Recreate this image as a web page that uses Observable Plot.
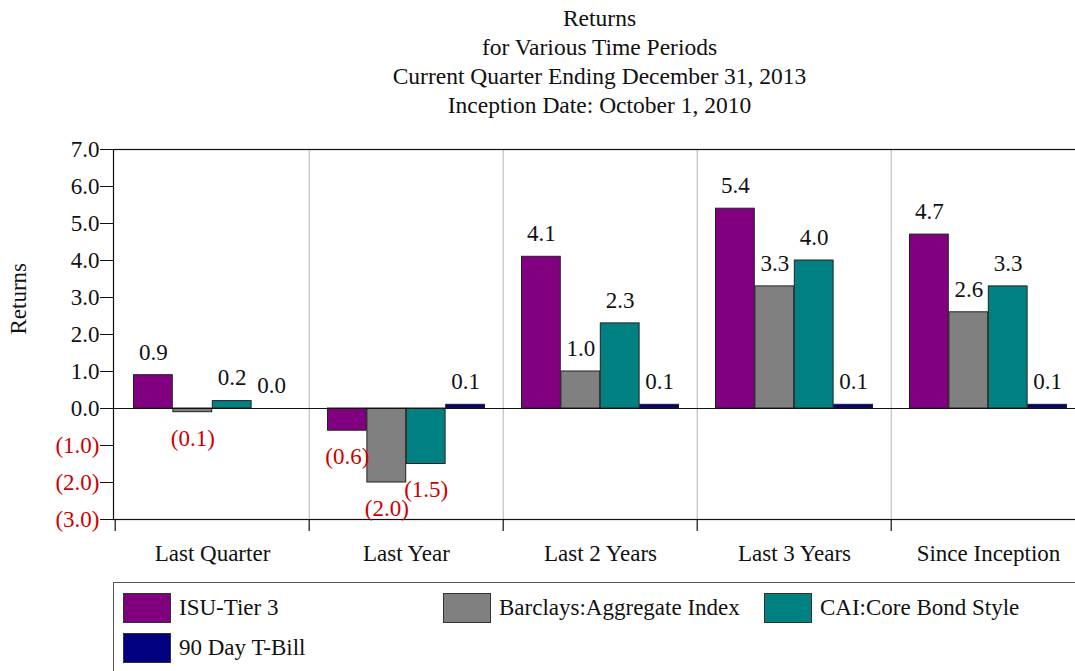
<!DOCTYPE html>
<html>
<head>
<meta charset="utf-8">
<script src="https://cdn.jsdelivr.net/npm/d3@7"></script>
<script src="https://cdn.jsdelivr.net/npm/@observablehq/plot@0.6"></script>
<style>
  html, body { margin: 0; padding: 0; background: #fff; overflow: hidden; }
  #wrap, #wrap * { font-family: "Liberation Serif", "Times New Roman", serif; }
  #wrap { position: relative; width: 1075px; height: 671px; overflow: hidden; color: #111; }
  #title { position: absolute; left: 113px; width: 973px; top: 4px; text-align: center; font-size: 23.5px; line-height: 29px; }
  #chart { position: absolute; left: 0; top: 130px; }
  #chart svg text { font-family: "Liberation Serif", "Times New Roman", serif !important; }
  #legend { position: absolute; left: 113px; top: 582px; width: 1000px; height: 120px; border: 1px solid #555; }
  .item { position: absolute; display: flex; align-items: center; font-size: 23px; white-space: nowrap; }
  .sw { width: 46px; height: 28px; border: 1px solid #333; margin-right: 8px; }
</style>
</head>
<body>
<div id="wrap">
  <div id="title"></div>
  <div id="chart"></div>
  <div id="legend"></div>
</div>
<script>
// ---------- data ----------
const titleLines = ["Returns", "for Various Time Periods", "Current Quarter Ending December 31, 2013", "Inception Date: October 1, 2010"];
const categories = ["Last Quarter", "Last Year", "Last 2 Years", "Last 3 Years", "Since Inception"];
const seriesNames = ["ISU-Tier 3", "Barclays:Aggregate Index", "CAI:Core Bond Style", "90 Day T-Bill"];
const isuTier3     = [0.9, -0.6, 4.1, 5.4, 4.7];
const barclaysAgg  = [-0.1, -2.0, 1.0, 3.3, 2.6];
const caiCoreBond  = [0.2, -1.5, 2.3, 4.0, 3.3];
const tBill90      = [0.0, 0.1, 0.1, 0.1, 0.1];
const yTicks = [-3, -2, -1, 0, 1, 2, 3, 4, 5, 6, 7];
const seriesColors = ["#800080", "#808080", "#008080", "#000080"];
const yLabel = "Returns";

// ---------- build ----------
const FONT = '"Liberation Serif", "Times New Roman", serif';
const seriesValues = [isuTier3, barclaysAgg, caiCoreBond, tBill90];
const rows = [];
seriesValues.forEach((vals, si) => vals.forEach((v, ci) => rows.push({series: seriesNames[si], cat: categories[ci], value: v})));

const fmt = v => v < 0 ? `(${Math.abs(v).toFixed(1)})` : v.toFixed(1);
const RED = "#cc0000";

const W = 1075, H = 440, ML = 113, MR = -11, MT = 19, MB = 51;
const bw = (W - ML - MR) / categories.length;
const groupW = bw * 0.81;
const barW = groupW / seriesNames.length;
const off = (bw - groupW) / 2;

const marks = [];
// category separators
marks.push(Plot.ruleX(categories.slice(1), {x: d => d, dx: -bw / 2, stroke: "#b4b4b4", strokeWidth: 1}));
// bars
seriesNames.forEach((s, i) => {
  const d = rows.filter(r => r.series === s);
  marks.push(Plot.barY(d, {
    x: "cat", y: "value", fill: seriesColors[i], stroke: "#222", strokeWidth: 1,
    insetLeft: off + barW * i, insetRight: bw - off - barW * (i + 1)
  }));
});
// zero line & frame
marks.push(Plot.ruleY([0], {stroke: "#111", strokeWidth: 1.2}));
marks.push(Plot.frame({stroke: "#111", strokeWidth: 1.2}));
// bottom boundary ticks
marks.push(Plot.ruleX(categories, {x: d => d, dx: -bw / 2, y1: yTicks[0], y2: yTicks[0], insetBottom: -12, stroke: "#111", strokeWidth: 1.2}));
// value labels
seriesNames.forEach((s, i) => {
  const d = rows.filter(r => r.series === s);
  const dx = off + barW * (i + 0.5) - bw / 2;
  marks.push(Plot.text(d.filter(r => r.value >= 0), {x: "cat", y: "value", text: r => fmt(r.value), dx, dy: -23, fill: "#111", fontFamily: FONT, fontSize: 23}));
  marks.push(Plot.text(d.filter(r => r.value < 0), {x: "cat", y: "value", text: r => fmt(r.value), dx, dy: 26, fill: RED, fontFamily: FONT, fontSize: 23}));
});
// y axis
marks.push(Plot.axisY(yTicks.filter(t => t >= 0), {tickSize: 13, tickPadding: 1, tickFormat: fmt, fill: "#111", stroke: "#111", fontFamily: FONT, fontSize: 23}));
marks.push(Plot.axisY(yTicks.filter(t => t < 0), {tickSize: 13, tickPadding: 1, tickFormat: fmt, fill: RED, stroke: "#111", fontFamily: FONT, fontSize: 23}));
marks.push(Plot.text([yLabel], {frameAnchor: "left", dx: -95, rotate: -90, fill: "#111", fontFamily: FONT, fontSize: 23}));
// x axis labels
marks.push(Plot.axisX(categories, {tickSize: 0, tickPadding: 25, label: null, fill: "#111", fontFamily: FONT, fontSize: 23}));

const chart = Plot.plot({
  width: W, height: H,
  marginLeft: ML, marginRight: MR, marginTop: MT, marginBottom: MB,
  style: {fontFamily: FONT, fontSize: "23px", color: "#111", background: "transparent", overflow: "visible"},
  x: {domain: categories, padding: 0, label: null},
  y: {domain: [yTicks[0], yTicks[yTicks.length - 1]], nice: false, label: null},
  marks
});
document.getElementById("chart").appendChild(chart);

// title
document.getElementById("title").innerHTML = titleLines.map(t => `<div>${t}</div>`).join("");

// legend
const legendPos = [[9, 10], [329, 10], [650, 10], [9, 50]];
const lg = document.getElementById("legend");
seriesNames.forEach((s, i) => {
  const it = document.createElement("div");
  it.className = "item";
  it.style.left = legendPos[i][0] + "px";
  it.style.top = legendPos[i][1] + "px";
  it.innerHTML = `<div class="sw" style="background:${seriesColors[i]}"></div><span>${s}</span>`;
  lg.appendChild(it);
});
</script>
</body>
</html>
